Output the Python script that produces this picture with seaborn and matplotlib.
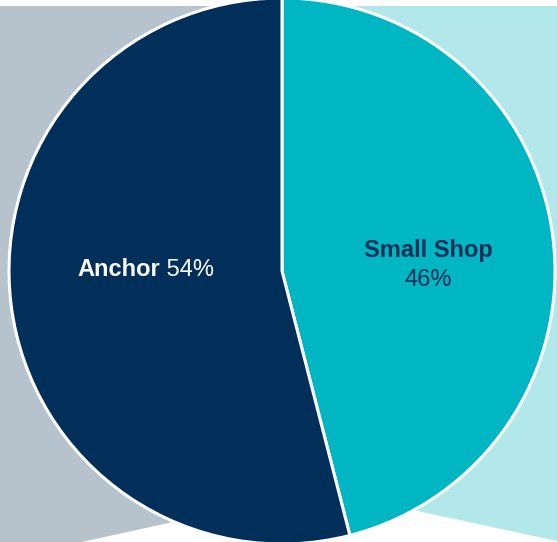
import matplotlib
matplotlib.use("Agg")
import matplotlib.pyplot as plt
from matplotlib.patches import Polygon
import seaborn as sns

# Space mix by tenant type
segments = ["Small Shop", "Anchor"]
shares = [46, 54]

NAVY = "#00305A"
TEAL = "#00B6C3"
PALE_GREY = "#B6C3CD"
PALE_TEAL = "#B3E8EB"

sns.set_theme(style="white")
plt.rcParams["font.family"] = ["Liberation Sans", "DejaVu Sans"]
palette = sns.color_palette([TEAL, NAVY])

W, H = 557, 542
fig = plt.figure(figsize=(W / 100, H / 100), dpi=100)
ax = fig.add_axes([0, 0, 1, 1])
ax.set_xlim(0, W)
ax.set_ylim(0, H)
ax.set_aspect("equal")
ax.axis("off")

cx, cy, r = 282, 271, 273

# Tinted backdrop panels behind each half of the pie
ax.add_patch(Polygon([(0, 536), (cx, 536), (cx, 44), (0, -18)],
                     closed=True, facecolor=PALE_GREY, edgecolor="none", zorder=0))
ax.add_patch(Polygon([(cx, 536), (W, 536), (W, 1), (cx, 60)],
                     closed=True, facecolor=PALE_TEAL, edgecolor="none", zorder=0))

wedges, _ = ax.pie(
    shares,
    colors=palette,
    startangle=90,
    counterclock=False,
    center=(cx, cy),
    radius=r,
    wedgeprops=dict(edgecolor="white", linewidth=2.2),
    frame=True,
)
ax.set_xlim(0, W)
ax.set_ylim(0, H)
ax.axis("off")

FS = 17

# Anchor label: bold name followed by regular share
name_a = ax.text(160, 265.5, segments[1], color="white", fontsize=FS,
                 fontweight="bold", ha="right", va="baseline", zorder=5)
ax.annotate(f" {shares[1]}%", xy=(1, 0), xycoords=name_a, color="white",
            fontsize=FS, ha="left", va="bottom", zorder=5)

# Small Shop label: bold name over the share
ax.text(428.5, 284.5, segments[0], color=NAVY, fontsize=FS,
        fontweight="bold", ha="center", va="baseline", zorder=5)
ax.text(428.5, 256, f"{shares[0]}%", color=NAVY, fontsize=FS,
        ha="center", va="baseline", zorder=5)

fig.savefig("out.png", dpi=100)
